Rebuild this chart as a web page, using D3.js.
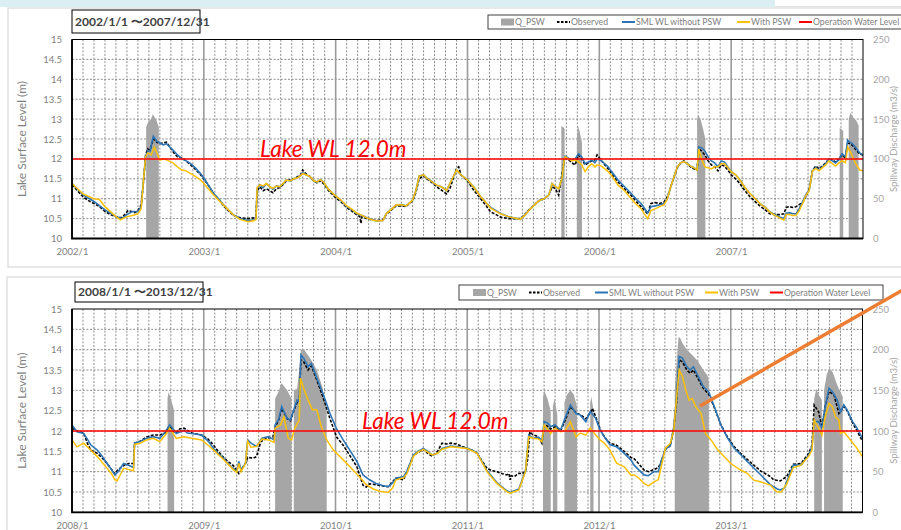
<!DOCTYPE html>
<html><head><meta charset="utf-8">
<script src="https://cdn.jsdelivr.net/npm/d3@7/dist/d3.min.js"></script>
<style>
body{margin:0;background:#fff;}
svg{display:block;font-family:Lato,"Noto Sans",sans-serif;}
</style>
</head><body>
<svg id="chart" width="901" height="530"></svg>
<script>
// ---------------- DATA ----------------
const levelTicks = [10,10.5,11,11.5,12,12.5,13,13.5,14,14.5,15];
const dischargeTicks = [0,50,100,150,200,250];
const operationLevel = 12.0;
const legendLabels = ["Q_PSW","Observed","SML WL without PSW","With PSW","Operation Water Level"];
const lakeLabel = "Lake WL 12.0m";
const yTitle = "Lake Surface Level (m)";
const y2Title = "Spillway Discharge (m3/s)";

// Panel A: 2002/1 - 2007/12 (x = months since 2002/1)
const periodA = "2002/1/1 〜2007/12/31";
const yearLabelsA = ["2002/1","2003/1","2004/1","2005/1","2006/1","2007/1"];
const observedA = [[0,11.35],[0.5,11.2],[1,11.05],[1.5,10.95],[2,10.88],[2.5,10.8],[3,10.68],[3.5,10.6],[4,10.55],[4.5,10.52],[4.8,10.6],[5.1,10.7],[5.4,10.68],[5.7,10.65],[6,10.7],[6.3,10.85],[6.5,11.4],[6.7,12.1],[6.9,12.25],[7.1,12.22],[7.4,12.5],[7.7,12.42],[8,12.38],[8.3,12.4],[8.6,12.42],[8.9,12.3],[9.2,12.18],[9.6,12.05],[10,12.02],[10.4,11.95],[10.8,11.85],[11.2,11.75],[11.7,11.6],[12,11.5],[12.5,11.3],[12.9,11.12],[13.4,10.97],[13.8,10.82],[14.3,10.68],[14.7,10.58],[15.3,10.52],[16,10.5],[16.6,10.52],[16.75,10.55],[16.85,11.2],[17.1,11.3],[17.4,11.2],[17.7,11.25],[18,11.2],[18.3,11.15],[18.6,11.25],[18.9,11.28],[19.2,11.35],[19.5,11.45],[19.9,11.48],[20.2,11.5],[20.5,11.55],[20.8,11.6],[21,11.72],[21.3,11.62],[21.7,11.55],[22,11.45],[22.3,11.4],[22.6,11.45],[22.9,11.38],[23.3,11.22],[23.9,11.05],[24.5,10.92],[25,10.78],[25.5,10.68],[25.9,10.6],[26.2,10.55],[26.3,10.38],[26.4,10.55],[26.8,10.5],[27.3,10.47],[27.7,10.45],[28.3,10.47],[28.6,10.6],[29,10.7],[29.5,10.82],[30,10.82],[30.4,10.8],[31,10.95],[31.3,11.15],[31.6,11.5],[32,11.58],[32.3,11.5],[32.8,11.4],[33.2,11.3],[33.6,11.22],[34.1,11.12],[34.4,11.26],[34.7,11.5],[35,11.76],[35.2,11.8],[35.4,11.6],[36,11.45],[36.6,11.2],[37.2,11.0],[37.7,10.82],[38.1,10.67],[38.6,10.6],[39,10.54],[39.7,10.5],[40.5,10.5],[40.8,10.5],[41.2,10.6],[41.6,10.72],[42,10.82],[42.5,10.95],[43,11.0],[43.4,11.1],[43.7,11.3],[44,11.25],[44.3,11.09],[44.5,11.45],[44.8,11.95],[44.9,12.05],[45.2,11.98],[45.5,11.9],[45.8,11.85],[46.1,12.1],[46.4,12.0],[46.7,11.85],[47,11.9],[47.3,11.95],[47.6,11.98],[47.8,12.1],[48.2,11.95],[48.8,11.75],[49.2,11.6],[49.7,11.42],[50.3,11.25],[50.9,11.08],[51.4,10.92],[51.8,10.8],[52.4,10.62],[52.7,10.88],[53.1,10.9],[53.5,10.88],[53.9,10.92],[54.2,11.05],[54.5,11.3],[54.8,11.55],[55.1,11.78],[55.4,11.9],[55.7,11.95],[56,11.88],[56.3,11.8],[56.6,11.75],[56.9,11.72],[57.05,12.25],[57.3,12.2],[57.6,12.1],[57.9,11.95],[58.2,11.85],[58.5,11.8],[58.8,11.7],[59.1,11.85],[59.4,11.82],[59.7,11.72],[60,11.6],[60.4,11.5],[60.8,11.38],[61.2,11.22],[61.7,11.05],[62.2,10.92],[62.6,10.82],[63.1,10.72],[63.5,10.62],[64,10.6],[64.4,10.6],[64.8,10.62],[65,10.78],[65.3,10.8],[65.6,10.78],[65.9,10.8],[66.2,10.85],[66.5,10.9],[66.8,11.05],[67.1,11.25],[67.4,11.7],[67.7,11.82],[68,11.75],[68.3,11.82],[68.6,11.9],[68.9,12.0],[69.2,11.98],[69.5,11.92],[69.8,12.0],[70.1,12.1],[70.4,12.02],[70.6,12.4],[70.8,12.38],[71,12.35],[71.3,12.25],[71.7,12.12],[72,12.1]];
const simA = [[0,11.38],[1,11.1],[2,10.93],[3,10.72],[4,10.55],[4.5,10.5],[5,10.6],[5.5,10.68],[6,10.68],[6.3,10.8],[6.5,11.45],[6.7,12.05],[6.9,12.2],[7.1,12.2],[7.4,12.57],[7.7,12.45],[8,12.4],[8.3,12.35],[8.6,12.38],[8.9,12.3],[9.2,12.22],[9.6,12.1],[10,12.0],[10.4,11.95],[10.8,11.88],[11.2,11.78],[11.7,11.63],[12,11.52],[12.5,11.3],[12.9,11.13],[13.4,10.98],[13.8,10.84],[14.3,10.7],[14.7,10.59],[15.3,10.5],[16,10.45],[16.6,10.47],[16.75,10.5],[16.85,11.25],[17.1,11.35],[17.4,11.28],[17.7,11.38],[18,11.3],[18.3,11.24],[18.6,11.32],[18.9,11.3],[19.2,11.38],[19.5,11.47],[19.9,11.45],[20.2,11.5],[20.5,11.52],[20.8,11.58],[21,11.65],[21.3,11.6],[21.7,11.55],[22,11.45],[22.3,11.42],[22.6,11.48],[22.9,11.42],[23.3,11.25],[23.9,11.09],[24.5,10.95],[25,10.8],[25.5,10.72],[25.9,10.63],[26.4,10.58],[26.8,10.53],[27.3,10.48],[27.7,10.44],[28.3,10.45],[28.6,10.62],[29,10.72],[29.5,10.84],[30,10.85],[30.4,10.82],[31,10.96],[31.3,11.2],[31.6,11.57],[32,11.6],[32.3,11.52],[32.8,11.42],[33.2,11.34],[33.6,11.3],[34.1,11.21],[34.4,11.38],[35,11.72],[35.4,11.6],[36,11.47],[36.6,11.28],[37.2,11.05],[37.7,10.9],[38.1,10.78],[38.6,10.7],[39,10.63],[39.7,10.55],[40.5,10.5],[40.8,10.48],[41.2,10.58],[41.6,10.71],[42,10.82],[42.5,10.95],[43,11.0],[43.4,11.09],[43.7,11.38],[44,11.3],[44.3,11.25],[44.6,11.51],[44.8,11.97],[44.9,12.07],[45.2,12.02],[45.5,11.97],[45.8,12.0],[46.1,12.13],[46.4,12.05],[46.7,11.88],[47,11.92],[47.3,11.97],[47.6,11.9],[47.8,12.0],[48.2,11.95],[48.8,11.8],[49.2,11.65],[49.7,11.47],[50.3,11.3],[50.9,11.13],[51.4,10.98],[51.8,10.88],[52.4,10.64],[52.7,10.8],[53.1,10.82],[53.5,10.85],[53.9,10.88],[54.2,11.0],[54.5,11.3],[54.8,11.55],[55.1,11.8],[55.4,11.9],[55.7,11.93],[56,11.88],[56.3,11.82],[56.6,11.78],[56.9,11.72],[57.05,12.3],[57.3,12.28],[57.6,12.2],[57.9,12.05],[58.2,11.95],[58.5,11.9],[58.8,11.8],[59.1,11.95],[59.4,11.92],[59.7,11.8],[60,11.68],[60.4,11.6],[60.8,11.47],[61.2,11.3],[61.7,11.13],[62.2,11.0],[62.6,10.88],[63.1,10.78],[63.5,10.67],[64,10.6],[64.4,10.54],[64.8,10.5],[65,10.63],[65.3,10.65],[65.6,10.62],[65.9,10.62],[66.2,10.75],[66.5,10.92],[66.8,11.1],[67.1,11.21],[67.4,11.7],[67.7,11.78],[68,11.72],[68.3,11.8],[68.6,11.88],[68.9,12.0],[69.2,11.95],[69.5,11.9],[69.8,11.98],[70.1,12.13],[70.4,12.05],[70.6,12.47],[70.8,12.42],[71,12.39],[71.3,12.3],[71.7,12.15],[72,12.1]];
const withPswA = [[0,11.38],[1,11.12],[2,11.0],[2.5,10.98],[3,10.8],[4,10.55],[4.4,10.47],[5,10.55],[5.5,10.58],[6,10.62],[6.3,10.75],[6.5,11.45],[6.7,12.05],[6.9,12.15],[7.2,12.1],[7.5,12.3],[7.8,12.1],[8,11.97],[8.4,12.0],[8.8,11.95],[9.2,11.9],[9.6,11.8],[10,11.72],[10.4,11.7],[10.8,11.63],[11.3,11.55],[11.7,11.47],[12,11.38],[12.5,11.22],[12.9,11.09],[13.4,10.95],[13.8,10.84],[14.3,10.7],[14.7,10.59],[15.3,10.48],[16,10.42],[16.6,10.45],[16.75,10.48],[16.85,11.28],[17.1,11.35],[17.4,11.32],[17.7,11.38],[18,11.3],[18.3,11.26],[18.6,11.32],[18.9,11.3],[19.2,11.38],[19.5,11.47],[19.9,11.45],[20.2,11.5],[20.5,11.52],[20.8,11.58],[21,11.63],[21.3,11.6],[21.7,11.55],[22,11.45],[22.3,11.42],[22.6,11.48],[22.9,11.42],[23.3,11.25],[23.9,11.09],[24.5,10.96],[25,10.82],[25.5,10.73],[25.9,10.64],[26.4,10.58],[26.8,10.52],[27.3,10.47],[27.7,10.44],[28.3,10.45],[28.6,10.62],[29,10.72],[29.5,10.84],[30,10.85],[30.4,10.82],[31,10.96],[31.3,11.2],[31.6,11.57],[32,11.6],[32.3,11.52],[32.8,11.42],[33.2,11.34],[33.6,11.3],[34.1,11.21],[34.4,11.38],[35,11.72],[35.4,11.6],[36,11.47],[36.6,11.28],[37.2,11.05],[37.7,10.9],[38.1,10.76],[38.6,10.68],[39,10.62],[39.7,10.55],[40.5,10.5],[40.8,10.48],[41.2,10.58],[41.6,10.71],[42,10.82],[42.5,10.95],[43,11.0],[43.4,11.09],[43.7,11.38],[44,11.3],[44.3,11.25],[44.6,11.51],[44.8,11.97],[44.9,12.05],[45.2,12.0],[45.5,11.95],[45.8,11.97],[46.1,11.93],[46.4,11.85],[46.7,11.68],[47,11.8],[47.3,11.88],[47.6,11.8],[47.8,11.85],[48.2,11.82],[48.8,11.68],[49.2,11.55],[49.7,11.34],[50.3,11.2],[50.9,11.0],[51.4,10.85],[51.8,10.75],[52.1,10.62],[52.4,10.5],[52.7,10.7],[53.1,10.75],[53.5,10.8],[53.9,10.85],[54.2,11.0],[54.5,11.3],[54.8,11.55],[55.1,11.8],[55.4,11.9],[55.7,11.93],[56,11.88],[56.3,11.82],[56.6,11.78],[56.9,11.72],[57.05,12.25],[57.3,12.0],[57.6,11.8],[57.9,11.78],[58.2,11.75],[58.5,11.8],[58.8,11.8],[59.1,11.88],[59.4,11.88],[59.7,11.78],[60,11.68],[60.4,11.6],[60.8,11.47],[61.2,11.3],[61.7,11.13],[62.2,11.0],[62.6,10.88],[63.1,10.78],[63.5,10.67],[64,10.58],[64.4,10.52],[64.8,10.46],[65,10.6],[65.3,10.6],[65.6,10.58],[65.9,10.58],[66.2,10.7],[66.5,10.88],[66.8,11.08],[67.1,11.2],[67.4,11.7],[67.7,11.76],[68,11.7],[68.3,11.78],[68.6,11.85],[68.9,11.95],[69.2,11.88],[69.5,11.82],[69.8,11.9],[70.1,11.95],[70.4,11.9],[70.6,12.3],[70.8,12.2],[71,12.09],[71.3,11.9],[71.7,11.72],[72,11.7]];
const qPswA = [
  [[6.75,140],[6.95,147],[7.2,150],[7.35,156],[7.5,153],[7.7,148],[7.9,140]],
  [[44.54,141],[44.7,140],[44.84,138]],
  [[45.96,125],[46.05,142],[46.2,135],[46.42,120]],
  [[56.9,150],[57.0,155],[57.2,150],[57.4,140],[57.65,125]],
  [[69.88,139],[70.05,137],[70.2,135]],
  [[70.7,150],[70.85,158],[71.1,152],[71.4,148],[71.6,142]]
];

// Panel B: 2008/1 - 2013/12 (x = months since 2008/1)
const periodB = "2008/1/1 〜2013/12/31";
const yearLabelsB = ["2008/1","2009/1","2010/1","2011/1","2012/1","2013/1"];
const observedB = [[0,12.07],[0.45,12.0],[1.06,11.95],[1.4,11.7],[1.7,11.53],[2.3,11.45],[2.7,11.35],[3.2,11.2],[3.6,11.05],[3.9,10.95],[4.2,11.05],[4.7,11.15],[5.2,11.2],[5.6,11.2],[5.7,11.7],[6.2,11.75],[6.8,11.85],[7.4,11.9],[8.0,11.9],[8.5,11.95],[8.9,12.1],[9.2,12.0],[9.5,11.95],[9.8,12.05],[10.2,12.07],[10.9,11.95],[11.8,11.9],[12.4,11.8],[12.9,11.65],[13.3,11.5],[13.8,11.35],[14.2,11.25],[14.7,11.15],[15.2,10.95],[15.8,11.2],[16.0,11.35],[16.5,11.33],[16.8,11.37],[17.2,11.74],[17.7,11.82],[18.3,11.85],[18.5,12.1],[18.8,12.25],[19.1,12.55],[19.6,12.3],[19.9,12.25],[20.2,12.5],[20.5,12.7],[20.7,12.72],[20.85,13.75],[21.1,13.7],[21.5,13.5],[21.8,13.6],[22.3,13.25],[22.9,12.8],[23.5,12.3],[24.1,11.85],[24.7,11.65],[25.3,11.4],[25.95,11.12],[26.5,10.67],[26.8,10.62],[27.1,10.7],[27.7,10.68],[28.3,10.65],[28.8,10.63],[29.2,10.75],[29.5,10.84],[30.2,10.8],[30.5,11.0],[31.1,11.4],[32,11.55],[32.4,11.45],[32.8,11.38],[33.3,11.5],[33.7,11.7],[34.1,11.68],[34.5,11.7],[35,11.68],[36,11.57],[36.5,11.52],[36.9,11.45],[37.3,11.28],[37.8,11.08],[38.3,11.02],[38.7,11.0],[39.2,10.95],[39.6,10.92],[39.8,10.95],[39.9,10.8],[40.0,10.9],[40.3,10.88],[40.7,10.96],[41.0,10.95],[41.3,11.0],[41.5,11.3],[41.7,11.98],[42.0,11.9],[42.3,11.88],[42.6,11.8],[42.8,11.7],[43.0,12.15],[43.3,12.12],[43.6,12.05],[44.0,12.1],[44.5,12.0],[44.9,12.25],[45.4,12.6],[45.9,12.45],[46.3,12.4],[46.8,12.3],[47.2,12.45],[47.4,12.55],[47.7,12.35],[48.1,12.05],[48.5,11.85],[49.0,11.7],[49.6,11.65],[50.3,11.5],[50.9,11.35],[51.2,11.32],[51.6,11.2],[52.1,11.04],[52.5,11.0],[53.0,11.05],[53.4,11.1],[53.6,11.2],[54.05,11.55],[54.5,11.64],[54.8,12.05],[55.06,12.7],[55.3,13.75],[55.6,13.7],[56.0,13.5],[56.3,13.42],[56.6,13.5],[56.9,13.35],[57.5,13.05],[58.0,12.9],[58.5,12.58],[59.1,12.15],[59.7,11.85],[60.3,11.62],[60.9,11.45],[61.5,11.3],[62.1,11.16],[62.7,11.02],[63.6,10.88],[63.9,10.8],[64.5,10.77],[65.1,10.88],[65.7,11.18],[66.4,11.2],[67.1,11.45],[67.4,11.65],[67.6,12.64],[68.0,12.47],[68.3,12.1],[68.6,12.6],[68.95,12.97],[69.4,12.89],[69.85,12.43],[70.3,12.6],[70.6,12.5],[71.1,12.2],[71.5,12.0],[72.0,11.75]];
const simB = [[0,12.15],[0.45,11.98],[1.06,11.94],[1.4,11.8],[1.7,11.66],[2.3,11.53],[2.7,11.4],[3.2,11.2],[3.6,11.05],[3.9,10.92],[4.2,11.0],[4.7,11.2],[5.2,11.15],[5.6,11.1],[5.7,11.7],[6.2,11.74],[6.8,11.82],[7.4,11.86],[8.0,11.82],[8.5,11.98],[8.9,12.15],[9.2,12.05],[9.5,11.94],[10.2,12.02],[10.5,11.95],[10.9,11.94],[11.8,11.9],[12.4,11.75],[12.9,11.57],[13.3,11.45],[13.8,11.33],[14.2,11.2],[14.7,11.08],[15,11.0],[15.2,11.25],[15.4,11.05],[15.8,11.2],[16,11.78],[16.3,11.7],[16.8,11.62],[17.3,11.82],[17.9,11.86],[18.4,11.78],[18.5,12.15],[18.8,12.27],[19.1,12.6],[19.6,12.31],[19.9,12.27],[20.2,12.52],[20.5,12.76],[20.7,12.72],[20.85,13.87],[21.1,13.79],[21.5,13.58],[21.8,13.66],[22.3,13.3],[22.9,12.89],[23.5,12.43],[24.1,12.05],[24.7,11.78],[25.3,11.53],[25.95,11.25],[26.5,10.92],[27.1,10.8],[27.7,10.71],[28.3,10.66],[28.8,10.63],[29.2,10.72],[29.5,10.84],[30.2,10.88],[30.5,11.0],[31.1,11.41],[31.5,11.5],[32,11.57],[32.4,11.5],[32.8,11.41],[33.3,11.45],[33.7,11.57],[34.1,11.6],[34.5,11.63],[36,11.58],[36.9,11.46],[37.8,11.02],[38.7,10.73],[39.6,10.53],[39.9,10.49],[40.7,10.57],[41.3,11.02],[41.6,11.9],[42.0,11.82],[42.5,11.85],[42.8,11.74],[43.0,12.23],[43.3,12.2],[43.6,12.11],[44.0,12.15],[44.5,12.02],[44.9,12.31],[45.4,12.64],[45.9,12.43],[46.3,12.39],[46.8,12.23],[47.2,12.48],[47.7,12.31],[48.1,12.02],[48.5,11.85],[49.0,11.66],[49.6,11.61],[50.3,11.45],[50.9,11.29],[51.2,11.16],[51.6,11.05],[52.1,10.92],[52.5,10.9],[53.0,11.0],[53.4,11.0],[53.6,11.2],[54.05,11.56],[54.5,11.64],[54.8,12.08],[55.06,12.8],[55.3,13.83],[55.6,13.79],[56.0,13.58],[56.3,13.5],[56.6,13.58],[56.9,13.42],[57.5,13.09],[58.0,12.96],[58.5,12.6],[59.1,12.15],[59.7,11.83],[60.3,11.58],[60.9,11.42],[61.5,11.25],[62.1,11.09],[62.7,10.93],[63.6,10.68],[64.2,10.58],[64.5,10.55],[64.9,10.6],[65.1,10.75],[65.7,11.16],[66.4,11.16],[67.1,11.41],[67.4,11.61],[67.6,12.23],[68.0,12.23],[68.3,12.07],[68.6,12.6],[68.95,13.05],[69.25,12.97],[69.7,12.76],[70.0,12.47],[70.3,12.64],[70.6,12.52],[71.1,12.23],[71.5,12.07],[72.0,11.82]];
const withPswB = [[0,11.78],[0.45,11.61],[1.06,11.7],[1.7,11.53],[2.3,11.37],[3.2,11.08],[3.6,10.95],[3.9,10.8],[4.1,10.77],[4.7,11.08],[5.2,11.05],[5.6,11.02],[5.7,11.67],[6.2,11.7],[6.8,11.78],[7.4,11.82],[8.0,11.74],[8.5,11.9],[8.9,12.07],[9.5,11.82],[10.2,11.86],[10.9,11.82],[11.8,11.78],[12.4,11.65],[12.9,11.53],[13.8,11.3],[14.7,11.05],[15,10.98],[15.2,11.2],[15.4,11.0],[15.8,11.2],[16,11.75],[16.3,11.6],[16.8,11.62],[17.3,11.8],[17.9,11.78],[18.4,11.72],[18.5,12.07],[19.0,12.15],[19.3,12.35],[19.7,11.82],[20.0,11.78],[20.3,12.07],[20.7,12.27],[20.8,13.3],[21.1,13.05],[21.5,12.76],[21.9,12.52],[22.3,12.52],[22.7,12.11],[23.2,11.78],[23.8,11.53],[24.7,11.29],[25.6,11.04],[26.3,10.84],[26.8,10.68],[27.4,10.58],[28.0,10.52],[28.8,10.49],[29.2,10.6],[29.5,10.8],[30.2,10.85],[30.5,10.95],[31.1,11.38],[31.5,11.48],[32,11.55],[32.4,11.48],[32.8,11.41],[33.3,11.45],[33.7,11.55],[34.1,11.58],[34.5,11.61],[36,11.57],[36.9,11.45],[37.8,11.0],[38.7,10.71],[39.6,10.51],[39.9,10.47],[40.7,10.55],[41.3,11.0],[41.6,11.86],[42.0,11.82],[42.5,11.8],[42.8,11.74],[43.0,12.15],[43.3,12.05],[43.6,11.94],[44.0,12.07],[44.5,11.98],[44.9,12.0],[45.4,12.23],[45.9,11.86],[46.3,11.95],[46.8,11.9],[47.2,12.07],[47.7,11.9],[48.1,11.78],[48.5,11.7],[49.0,11.53],[49.6,11.21],[50.3,11.12],[50.9,10.92],[51.2,10.92],[51.6,10.85],[52.1,10.71],[52.5,10.65],[53.0,10.75],[53.4,10.8],[53.6,11.04],[54.05,11.58],[54.5,11.7],[54.8,12.0],[55.06,12.8],[55.3,13.5],[55.6,13.34],[55.9,13.01],[56.2,12.76],[56.5,12.8],[56.8,12.6],[57.3,12.43],[57.7,11.94],[58.2,11.78],[58.8,11.54],[59.4,11.37],[60.0,11.2],[60.9,11.04],[61.5,10.96],[62.1,10.79],[62.7,10.75],[63.6,10.67],[64.2,10.5],[64.6,10.5],[65.1,10.7],[65.7,11.1],[66.4,11.16],[67.1,11.38],[67.4,11.53],[67.6,12.27],[68.0,12.07],[68.3,11.9],[68.6,12.35],[68.95,12.68],[69.25,12.6],[69.55,12.35],[69.85,12.27],[70.0,11.94],[70.3,11.98],[70.9,11.78],[71.4,11.61],[72.0,11.37]];
const qPswB = [
  [[8.7,140],[8.8,148],[9.0,140],[9.2,130],[9.3,125]],
  [[18.5,140],[18.8,148],[19.1,159],[19.3,155],[19.6,150],[19.9,142],[20.0,140]],
  [[20.2,150],[20.5,152],[20.7,175],[20.85,200],[21.1,201],[21.5,193],[21.8,187],[22.3,175],[22.8,154],[23.2,126]],
  [[42.9,140],[43.0,150],[43.3,140],[43.6,125]],
  [[43.8,130],[43.95,140],[44.2,120]],
  [[44.85,135],[45.1,145],[45.4,150],[45.7,145],[46.0,130]],
  [[47.2,135],[47.3,142],[47.5,125]],
  [[54.9,150],[55.1,190],[55.25,216],[55.4,214],[55.6,208],[56.0,200],[56.3,196],[56.6,192],[57.0,186],[57.5,175],[57.9,168],[58.0,160]],
  [[67.6,140],[67.8,152],[68.0,145],[68.3,138]],
  [[68.5,150],[68.75,170],[69.0,177],[69.3,172],[69.6,160],[69.9,150],[70.2,142]]
];

// ---------------- DRAW ----------------
const svg = d3.select("#chart");
const C = {gray:"#a6a6a6", obs:"#000", sim:"#2e75b6", psw:"#ffc000", op:"#ff0000", grid:"#7f7f7f", txt:"#7f7f7f", txt2:"#a6a6a6"};

// slide header band
svg.append("rect").attr("x",0).attr("y",0).attr("width",775).attr("height",7).attr("fill","#dbeef4");
svg.append("line").attr("x1",775).attr("x2",901).attr("y1",6.5).attr("y2",6.5).attr("stroke","#e0e0e0");

function panel(cfg){
  const g = svg.append("g");
  g.append("rect").attr("x",cfg.frame[0]).attr("y",cfg.frame[1]).attr("width",cfg.frame[2]).attr("height",cfg.frame[3])
    .attr("fill","none").attr("stroke","#d9d9d9").attr("stroke-width",1.2);

  const x = d3.scaleLinear().domain([0,72]).range([cfg.left,cfg.right]);
  const y = d3.scaleLinear().domain([10,15]).range([cfg.bottom,cfg.top]);
  const y2 = d3.scaleLinear().domain([0,250]).range([cfg.bottom,cfg.top]);

  // grid
  const months = d3.range(1,72).filter(m=>m%12!==0);
  g.selectAll(null).data(levelTicks.slice(1,-1)).join("line")
    .attr("x1",cfg.left).attr("x2",cfg.right).attr("y1",d=>y(d)).attr("y2",d=>y(d))
    .attr("stroke",C.grid).attr("stroke-width",0.9).attr("stroke-dasharray","2,1.6");
  g.selectAll(null).data(months).join("line")
    .attr("x1",d=>x(d)).attr("x2",d=>x(d)).attr("y1",cfg.top).attr("y2",cfg.bottom)
    .attr("stroke",C.grid).attr("stroke-width",0.9).attr("stroke-dasharray","2,1.6");
  g.selectAll(null).data(d3.range(12,72,12)).join("line")
    .attr("x1",d=>x(d)).attr("x2",d=>x(d)).attr("y1",cfg.top).attr("y2",cfg.bottom)
    .attr("stroke","#9a9a9a").attr("stroke-width",1.6);

  // Q_PSW areas (right axis)
  const area = d3.area().x(d=>x(d[0])).y0(y2(0)).y1(d=>y2(d[1]));
  g.selectAll(null).data(cfg.q).join("path").attr("d",area).attr("fill",C.gray);

  // lines
  const line = d3.line().x(d=>x(d[0])).y(d=>y(d[1]));
  g.append("path").datum(cfg.obs).attr("d",line).attr("fill","none").attr("stroke",C.obs)
    .attr("stroke-width",1.6).attr("stroke-dasharray","3,1.5");
  g.append("path").datum(cfg.sim).attr("d",line).attr("fill","none").attr("stroke",C.sim).attr("stroke-width",1.6);
  g.append("path").datum(cfg.psw).attr("d",line).attr("fill","none").attr("stroke",C.psw).attr("stroke-width",1.5);
  g.append("line").attr("x1",cfg.left).attr("x2",cfg.right).attr("y1",y(operationLevel)).attr("y2",y(operationLevel))
    .attr("stroke",C.op).attr("stroke-width",1.5);

  // plot border
  g.append("rect").attr("x",cfg.left).attr("y",cfg.top).attr("width",cfg.right-cfg.left).attr("height",cfg.bottom-cfg.top)
    .attr("fill","none").attr("stroke","#000").attr("stroke-width",1);
  g.append("path").attr("d",`M${cfg.left},${cfg.top}V${cfg.bottom}H${cfg.right}`).attr("fill","none").attr("stroke","#000").attr("stroke-width",1.8);

  // left axis
  const ax = d3.axisLeft(y).tickValues(levelTicks).tickSize(0).tickPadding(10).tickFormat(d3.format("~g"));
  const ga = g.append("g").attr("transform",`translate(${cfg.left},0)`).call(ax);
  ga.select(".domain").remove();
  ga.selectAll("text").attr("fill",C.txt).attr("font-size",9.5).attr("font-family","Lato");
  // right axis
  const ax2 = d3.axisRight(y2).tickValues(dischargeTicks).tickSize(0).tickPadding(10);
  const gr = g.append("g").attr("transform",`translate(${cfg.right},0)`).call(ax2);
  gr.select(".domain").remove();
  gr.selectAll("text").attr("fill",C.txt2).attr("font-size",9.5).attr("font-family","Lato");
  // x axis labels
  const axb = d3.axisBottom(x).tickValues(d3.range(0,72,12)).tickSize(0).tickPadding(10)
    .tickFormat((d,i)=>cfg.years[i]);
  const gb = g.append("g").attr("transform",`translate(0,${cfg.bottom})`).call(axb);
  gb.select(".domain").remove();
  gb.selectAll("text").attr("fill",C.txt).attr("font-size",9.5).attr("font-family","Lato");

  // axis titles
  const my = (cfg.top+cfg.bottom)/2;
  g.append("text").attr("transform",`translate(${cfg.left-50},${my}) rotate(-90)`).attr("text-anchor","middle")
    .attr("dy","0.35em").attr("fill",C.txt).attr("font-size",12).text(yTitle);
  g.append("text").attr("transform",`translate(${cfg.right+31},${my}) rotate(-90)`).attr("text-anchor","middle")
    .attr("dy","0.35em").attr("fill",C.txt2).attr("font-size",9.5).text(y2Title);

  // lake label
  g.append("text").attr("x",cfg.lakeX).attr("y",y(operationLevel)-2).attr("fill",C.op)
    .attr("font-size",22.5).attr("font-style","italic").text(lakeLabel);

  // period box
  const pb = cfg.periodBox;
  g.append("rect").attr("x",pb[0]).attr("y",pb[1]).attr("width",pb[2]).attr("height",pb[3]).attr("fill","#fff").attr("stroke","#000").attr("stroke-width",1);
  g.append("text").attr("x",pb[0]+3).attr("y",pb[1]+pb[3]/2).attr("dy","0.35em").attr("fill","#404040")
    .attr("font-size",12).attr("font-weight","bold").text(cfg.period);

  // legend
  const lb = cfg.legendBox;
  g.append("rect").attr("x",lb[0]).attr("y",lb[1]).attr("width",lb[2]).attr("height",lb[3]).attr("fill","#fff").attr("stroke","#404040").attr("stroke-width",1);
  const ly = lb[1]+lb[3]/2;
  const lx = cfg.legendX;
  legendLabels.forEach((lab,i)=>{
    const sx = lx[i];
    if(i===0){
      g.append("rect").attr("x",sx).attr("y",ly-3.5).attr("width",13).attr("height",7).attr("fill",C.gray);
    } else {
      const col = [null,C.obs,C.sim,C.psw,C.op][i];
      g.append("line").attr("x1",sx).attr("x2",sx+13).attr("y1",ly).attr("y2",ly).attr("stroke",col)
        .attr("stroke-width",2).attr("stroke-dasharray",i===1?"2.5,1.5":null);
    }
    g.append("text").attr("x",sx+14).attr("y",ly).attr("dy","0.35em").attr("fill",C.txt).attr("font-size",8.7).text(lab);
  });
}

panel({frame:[8,8,900,259], left:72, right:863, top:39.5, bottom:238.5, years:yearLabelsA, period:periodA,
  periodBox:[72,10,128,23], legendBox:[488,15,420,14], legendX:[501,557,622,737,799], lakeX:260,
  obs:observedA, sim:simA, psw:withPswA, q:qPswA});
panel({frame:[7,277,900,260], left:72, right:862.5, top:309, bottom:512.3, years:yearLabelsB, period:periodB,
  periodBox:[75,282,128,20], legendBox:[459,285,424,15], legendX:[473,529,595,705,770], lakeX:362,
  obs:observedB, sim:simB, psw:withPswB, q:qPswB});

// annotation arrow line
svg.append("line").attr("x1",905).attr("y1",288.8).attr("x2",700).attr("y2",406)
  .attr("stroke","#ed7d31").attr("stroke-width",3.5);
</script>
</body></html>
